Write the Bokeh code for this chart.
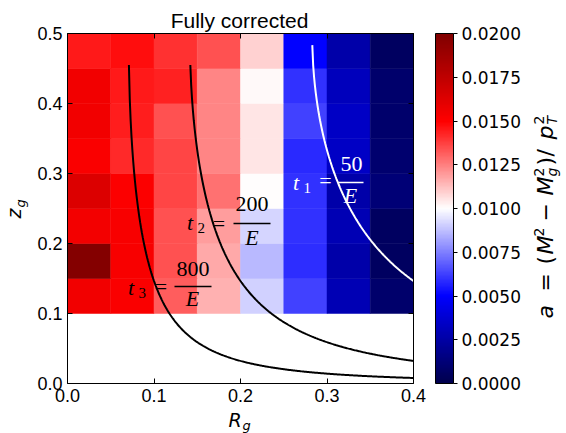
import math
import numpy as np
from bokeh.plotting import figure
from bokeh.models import (ColumnDataSource, LinearColorMapper, ColorBar, FixedTicker,
                          NumeralTickFormatter, LinearAxis, Label, Range1d)
from bokeh.transform import transform
from bokeh.embed import file_html
from bokeh.resources import INLINE

# ---------------- data ----------------
r_edges = [0.0, 0.05, 0.10, 0.15, 0.20, 0.25, 0.30, 0.35, 0.40]
z_edges = [0.10, 0.15, 0.20, 0.25, 0.30, 0.35, 0.40, 0.45, 0.50]
# a values, one row per z bin (bottom -> top); columns follow the R bins
a_z010 = [0.0155, 0.0152, 0.0132, 0.0115, 0.0091, 0.0063, 0.0029, 0.0009]
a_z015 = [0.0198, 0.0153, 0.0134, 0.0117, 0.0086, 0.0059, 0.0026, 0.0006]
a_z020 = [0.0154, 0.0153, 0.0134, 0.0119, 0.0092, 0.0060, 0.0029, 0.0006]
a_z025 = [0.0164, 0.0151, 0.0136, 0.0128, 0.0100, 0.0060, 0.0026, 0.0012]
a_z030 = [0.0152, 0.0142, 0.0136, 0.0124, 0.0105, 0.0058, 0.0034, 0.0010]
a_z035 = [0.0155, 0.0144, 0.0134, 0.0124, 0.0105, 0.0063, 0.0034, 0.0009]
a_z040 = [0.0155, 0.0145, 0.0143, 0.0124, 0.0101, 0.0060, 0.0032, 0.0009]
a_z045 = [0.0145, 0.0147, 0.0140, 0.0134, 0.0109, 0.0050, 0.0026, 0.0006]
a_rows = [a_z010, a_z015, a_z020, a_z025, a_z030, a_z035, a_z040, a_z045]

t_values = [50, 200, 800]          # formation-time curves t = value / E
t_names = ["1", "2", "3"]
t_colors = ["white", "black", "black"]

x_min, x_max = 0.0, 0.4
y_min, y_max = 0.0, 0.5
x_ticks = [0.0, 0.1, 0.2, 0.3, 0.4]
y_ticks = [0.0, 0.1, 0.2, 0.3, 0.4, 0.5]
cbar_ticks = [0.0, 0.0025, 0.005, 0.0075, 0.01, 0.0125, 0.015, 0.0175, 0.02]
a_low, a_high = 0.0, 0.02

# ---------------- colormap (matplotlib "seismic") ----------------
def seismic(n=256):
    pos = [0.0, 0.25, 0.5, 0.75, 1.0]
    cols = [(0, 0, 0.3), (0, 0, 1), (1, 1, 1), (1, 0, 0), (0.5, 0, 0)]
    out = []
    for i in range(n):
        f = i / (n - 1)
        r = np.interp(f, pos, [c[0] for c in cols])
        g = np.interp(f, pos, [c[1] for c in cols])
        b = np.interp(f, pos, [c[2] for c in cols])
        out.append("#%02x%02x%02x" % (int(round(r * 255)), int(round(g * 255)), int(round(b * 255))))
    return out

mapper = LinearColorMapper(palette=seismic(), low=a_low, high=a_high)

# ---------------- heatmap source ----------------
xs, ys, ws, hs, vals = [], [], [], [], []
for j, row in enumerate(a_rows):
    for i, v in enumerate(row):
        xs.append((r_edges[i] + r_edges[i + 1]) / 2)
        ys.append((z_edges[j] + z_edges[j + 1]) / 2)
        ws.append(r_edges[i + 1] - r_edges[i])
        hs.append(z_edges[j + 1] - z_edges[j])
        vals.append(v)
src = ColumnDataSource(dict(x=xs, y=ys, w=ws, h=hs, a=vals))

# ---------------- layout: plot box at pixels x 67..413, y 33..383 ----------------
W, H = 566, 433
BX0, BY0 = 67.0, 383.0                       # pixel of (R=0, z=0)
SX = 346.0 / (x_max - x_min)                 # px per unit R
SY = 350.0 / (y_max - y_min)                 # px per unit z

def d(xp, yp):
    return x_min + (xp - BX0) / SX, y_min + (BY0 - yp) / SY

xr0, yr1 = d(0, 0)
xr1, yr0 = d(W, H)

p = figure(width=W, height=H, x_range=Range1d(xr0, xr1), y_range=Range1d(yr0, yr1),
           output_backend="svg", toolbar_location=None,
           x_axis_location=None, y_axis_location=None,
           min_border=0, min_border_left=0, min_border_right=0,
           min_border_top=0, min_border_bottom=0)
p.grid.visible = False
p.outline_line_color = None
p.background_fill_color = "white"
p.border_fill_color = "white"

p.rect(x="x", y="y", width="w", height="h", source=src,
       fill_color=transform("a", mapper), line_color=transform("a", mapper), line_width=0.5)

# curves: z(1-z) R^2 = 1/t
R = np.round(np.arange(0.0, 0.4005, 0.001), 3)
for t, col in zip(t_values, t_colors):
    with np.errstate(divide="ignore", invalid="ignore"):
        disc = 1.0 - 4.0 / (t * R ** 2)
    m = (R > 0) & (disc > 0)
    zc = (1.0 - np.sqrt(disc[m])) / 2.0
    p.line(R[m], zc, line_color=col, line_width=2)

# ---------------- axes (fixed at the plot box edges) ----------------
def make_axis(loc, bounds, ticks, labels=True):
    ax = LinearAxis(fixed_location=loc, bounds=bounds, ticker=FixedTicker(ticks=ticks),
                    major_tick_in=5, major_tick_out=0, minor_tick_line_color=None,
                    axis_line_color="black", major_tick_line_color="black",
                    major_label_standoff=5,
                    major_label_text_font="Liberation Sans", major_label_text_font_size="18px",
                    major_label_text_color="black")
    if labels:
        ax.formatter = NumeralTickFormatter(format="0.0")
    else:
        ax.major_label_overrides = {v: "" for v in ticks}
    return ax

p.add_layout(make_axis(y_min, (x_min, x_max), x_ticks), "below")
p.add_layout(make_axis(x_min, (y_min, y_max), y_ticks), "left")
p.add_layout(make_axis(y_max, (x_min, x_max), x_ticks, labels=False), "above")
p.add_layout(make_axis(x_max, (y_min, y_max), y_ticks, labels=False), "right")

cbar = ColorBar(color_mapper=mapper, ticker=FixedTicker(ticks=cbar_ticks),
                formatter=NumeralTickFormatter(format="0.0000"),
                width=18, height=350, location=(435, H - BY0), margin=0, padding=0,
                bar_line_color="black", major_tick_in=0, major_tick_out=4,
                major_tick_line_color="black", label_standoff=4,
                major_label_text_font="DejaVu Sans", major_label_text_font_size="17px",
                major_label_text_color="black",
                background_fill_alpha=0, border_line_color=None)
p.add_layout(cbar)

# ---------------- text annotations (pixel layout -> data coordinates) ----------------
K_BASE = 0.38   # measured offset of the label anchor from the glyph baseline (fraction of size)

def add_label(xp, yp, text, size, font="DejaVu Sans", style="normal", color="black",
              align="left", angle=0.0):
    s = float(size.replace("px", ""))
    if angle == 0.0:
        yp = yp - K_BASE * s
    else:
        xp = xp - K_BASE * s
    x, y = d(xp, yp)
    p.add_layout(Label(x=x, y=y, text=text, text_font=font, text_font_size=size,
                       text_font_style=style, text_color=color, text_align=align,
                       text_baseline="alphabetic", angle=angle))

rot = math.pi / 2

add_label(239, 28, "Fully corrected", "21px", font="Liberation Sans", align="center")

# axis labels R_g and z_g
add_label(228, 427, "R", "19px", style="italic")
add_label(242, 430, "g", "13px", style="italic")
add_label(21, 218, "z", "19px", style="italic", angle=rot)
add_label(25, 207, "g", "13px", style="italic", angle=rot)

# curve labels: t_i = N / E
serif = "Liberation Serif"
lab_pos = {  # pixels: t anchor, subscript, '=' center, numerator center, bar, E center
    "1": dict(t=(292.5, 190), s=(303, 193), eq=(325, 188), num=(351, 172), bar=(338, 363, 182), E=(350, 203)),
    "2": dict(t=(186.5, 230), s=(197, 233), eq=(218.5, 231), num=(251.5, 212), bar=(233, 270, 223), E=(251.5, 245)),
    "3": dict(t=(127.5, 295), s=(138, 298), eq=(160.5, 294), num=(192.5, 277), bar=(174, 211, 286), E=(192, 306)),
}
bx0, bx1, by, bcol = [], [], [], []
for t, name, col in zip(t_values, t_names, t_colors):
    L = lab_pos[name]
    add_label(*L["t"], "t", "22px", font=serif, style="italic", color=col)
    add_label(*L["s"], name, "15px", font=serif, color=col)
    add_label(*L["eq"], "=", "22px", font=serif, color=col, align="center")
    add_label(*L["num"], str(t), "22px", font=serif, color=col, align="center")
    add_label(*L["E"], "E", "22px", font=serif, style="italic", color=col, align="center")
    x0, y0 = d(L["bar"][0], L["bar"][2])
    x1, _ = d(L["bar"][1], L["bar"][2])
    bx0.append(x0); bx1.append(x1); by.append(y0); bcol.append(col)
p.segment(x0=bx0, y0=by, x1=bx1, y1=by, line_color=bcol, line_width=1.5)

# colour bar label: a = (M^2 - M_g^2)/p_T^2, rotated
xb, xsup, xsub = 553, 544, 557
cb_pieces = [  # (x, start y, text, size, style)
    (xb, 318, "a", "22px", "italic"),
    (xb, 291, "=", "22px", "normal"),
    (xb, 264, "(", "22px", "normal"),
    (xb, 254, "M", "22px", "italic"),
    (xsup, 236, "2", "14px", "normal"),
    (xb, 221, "\u2212", "22px", "normal"),
    (xb, 195, "M", "22px", "italic"),
    (xsup, 176, "2", "14px", "normal"),
    (xsub, 176, "g", "14px", "italic"),
    (xb, 165, ")", "22px", "normal"),
    (xb, 156, "/", "22px", "normal"),
    (xb, 139, "p", "22px", "italic"),
    (xsup, 124, "2", "14px", "normal"),
    (xsub, 124, "T", "14px", "italic"),
]
for xp, yp, txt, sz, st in cb_pieces:
    add_label(xp, yp, txt, sz, style=st, angle=rot)

open("out.html", "w").write(file_html(p, INLINE))
